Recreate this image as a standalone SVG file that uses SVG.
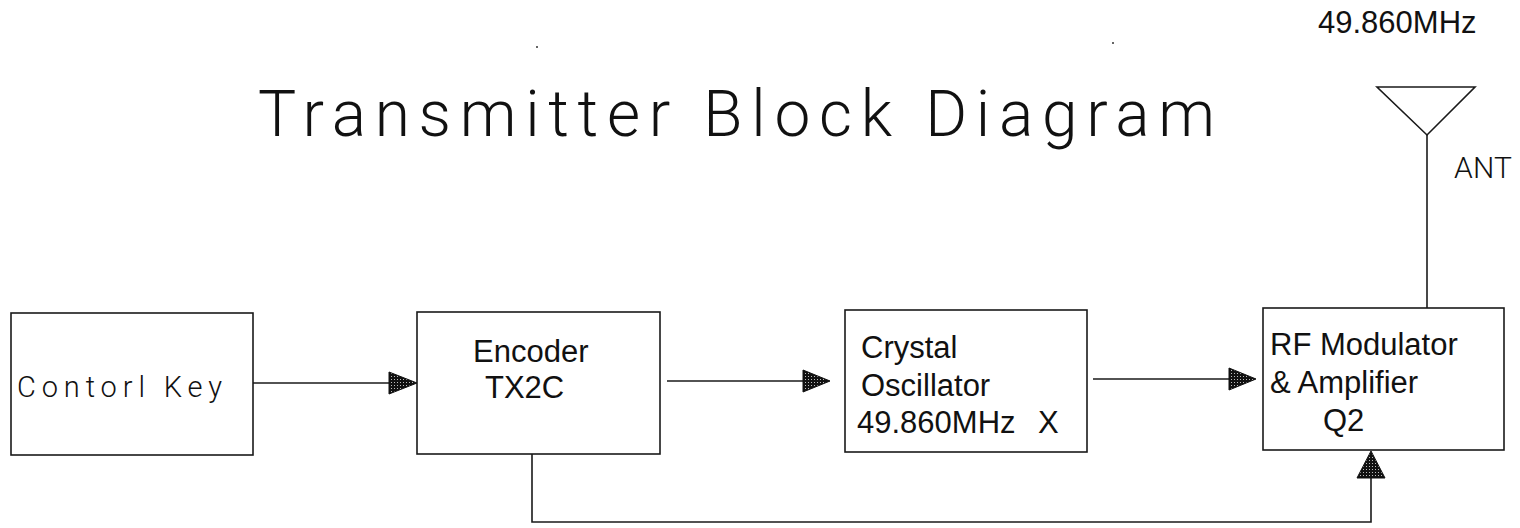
<svg xmlns="http://www.w3.org/2000/svg" width="1520" height="528" viewBox="0 0 1520 528">
  <style>
    .box { fill: #fff; stroke: #1a1a1a; stroke-width: 1.6; }
    .wire { fill: none; stroke: #1a1a1a; stroke-width: 1.6; }
    .head { fill: url(#dots); stroke: #111; stroke-width: 1; }
    .lbl { font-family: "Liberation Sans", Arial, sans-serif; font-size: 31px; fill: #111; }
    .cad { font-family: Roboto, "DejaVu Sans", sans-serif; font-weight: 300; fill: #111; }
  </style>
  <defs>
    <pattern id="dots" width="3" height="3" patternUnits="userSpaceOnUse">
      <rect width="3" height="3" fill="#111"/>
      <rect x="1" y="1" width="1" height="1" fill="#bbb"/>
    </pattern>
  </defs>

  <rect width="1520" height="528" fill="#fff"/>

  <text class="cad" x="258" y="136" font-size="64" textLength="957" lengthAdjust="spacing">Transmitter Block Diagram</text>
  <rect x="536" y="46" width="2" height="2" fill="#666"/>
  <rect x="1112" y="42" width="2" height="2" fill="#666"/>

  <g id="connectors">
    <line class="wire" x1="253" y1="383" x2="389" y2="383"/>
    <polygon class="head" points="389,372 417,383 389,394"/>
    <line class="wire" x1="667" y1="381" x2="803" y2="381"/>
    <polygon class="head" points="803,370 830,381 803,392"/>
    <line class="wire" x1="1093" y1="379" x2="1229" y2="379"/>
    <polygon class="head" points="1229,368 1256,379 1229,390"/>
    <polyline class="wire" points="532,454 532,522 1371,522 1371,478"/>
    <polygon class="head" points="1357,478 1371,451 1385,478"/>
    <line class="wire" x1="1427" y1="135" x2="1427" y2="308"/>
  </g>

  <g id="control-key">
    <rect class="box" x="11" y="313" width="242" height="142"/>
    <text class="cad" x="17" y="397" font-size="29" textLength="205" lengthAdjust="spacing">Contorl Key</text>
  </g>

  <g id="encoder">
    <rect class="box" x="417" y="312" width="243" height="142"/>
    <text class="lbl" x="473" y="362">Encoder</text>
    <text class="lbl" x="485" y="398">TX2C</text>
  </g>

  <g id="crystal-oscillator">
    <rect class="box" x="845" y="310" width="242" height="142"/>
    <text class="lbl" x="861" y="358">Crystal</text>
    <text class="lbl" x="861" y="396">Oscillator</text>
    <text class="lbl" x="857" y="433">49.860MHz<tspan x="1038">X</tspan></text>
  </g>

  <g id="rf-modulator">
    <rect class="box" x="1263" y="308" width="241" height="142"/>
    <text class="lbl" x="1270" y="355">RF Modulator</text>
    <text class="lbl" x="1270" y="393">&amp; Amplifier</text>
    <text class="lbl" x="1323" y="431">Q2</text>
  </g>

  <g id="antenna">
    <polygon class="wire" points="1377,87 1475,87 1427,135"/>
    <text class="cad" x="1454" y="178" font-size="30" textLength="58" lengthAdjust="spacing">ANT</text>
    <text class="lbl" x="1318" y="33">49.860MHz</text>
  </g>
</svg>
